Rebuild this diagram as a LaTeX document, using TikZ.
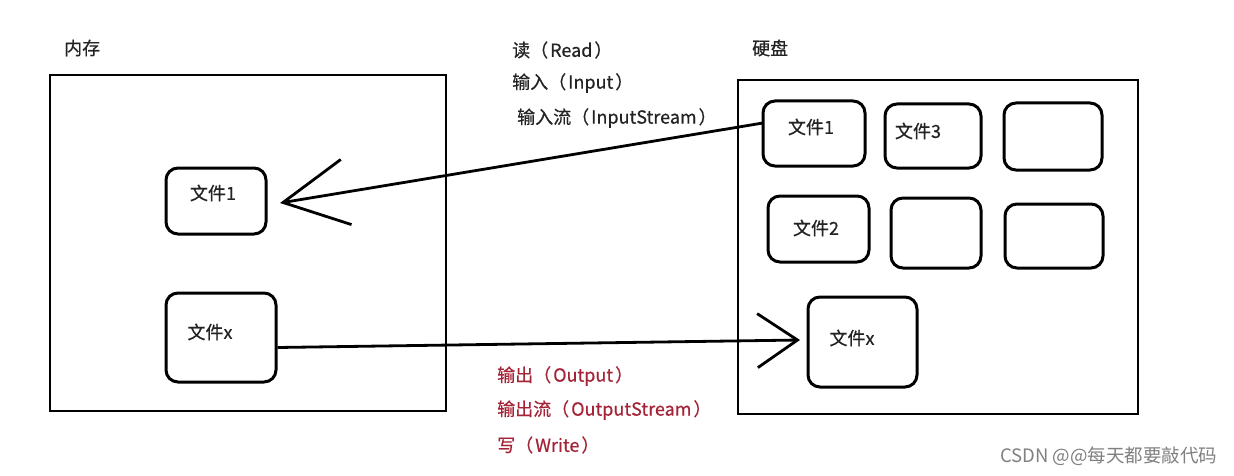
\documentclass[tikz,border=0pt]{standalone}
\usepackage{fontspec}
\setmainfont{Noto Sans CJK SC}
\newfontfamily\lblfont[FakeBold=0.5]{Noto Sans CJK SC}
\usetikzlibrary{arrows.meta}
\definecolor{redlbl}{RGB}{165,35,55}
\definecolor{darklbl}{RGB}{35,35,35}
\newcommand{\lp}{（\kern2pt}
\newcommand{\rp}{\kern2pt）}
\tikzset{
  big/.style={draw, line width=2.8pt},
  file/.style={draw, line width=3pt, rounded corners=12pt},
  ftxt/.style={font=\lblfont\fontsize{18}{20}\selectfont, text=darklbl},
  lbl/.style={anchor=west, font=\lblfont\fontsize{18}{20}\selectfont, text=darklbl, inner sep=0pt},
  rlbl/.style={lbl, text=redlbl},
  arr/.style={line width=2.8pt},
}
\begin{document}
\begin{tikzpicture}[x=1pt,y=-1pt]
\useasboundingbox (0,0) rectangle (1234,476);
\fill[white] (0,0) rectangle (1234,476);
% big boxes
\node[big, minimum width=396pt, minimum height=336pt, inner sep=0pt] (mem) at (248,243) {};
\node[big, minimum width=400pt, minimum height=334pt, inner sep=0pt] (disk) at (938,247) {};
\node[lbl] (memlbl) at (64,48) {内存};
\node[lbl] (disklbl) at (752,48) {硬盘};
% memory files
\node[file, minimum width=100pt, minimum height=66pt] (lf1) at (216,201) {};
\node[ftxt] (lf1t) at (213,193) {文件1};
\node[file, minimum width=110pt, minimum height=89pt] (lfx) at (221,337.5) {};
\node[ftxt] (lfxt) at (210,332) {文件x};
% disk files
\node[file, minimum width=102pt, minimum height=65pt] (rf1) at (814,133.5) {};
\node[ftxt] (rf1t) at (811,127) {文件1};
\node[file, minimum width=96pt, minimum height=64pt] (rf3) at (933,136) {};
\node[ftxt] (rf3t) at (918,131) {文件3};
\node[file, minimum width=98pt, minimum height=67pt] (re1) at (1053,136.5) {};
\node[file, minimum width=101pt, minimum height=66pt] (rf2) at (818.5,229) {};
\node[ftxt] (rf2t) at (816,228) {文件2};
\node[file, minimum width=90pt, minimum height=70pt] (re2) at (936,233) {};
\node[file, minimum width=98pt, minimum height=64pt] (re3) at (1054,236) {};
\node[file, minimum width=109pt, minimum height=90pt] (rfx) at (862.5,342) {};
\node[ftxt] (rfxt) at (852,338) {文件x};
% arrows
\coordinate (tip1) at (280,203);
\coordinate (tip2) at (800,340);
\draw[arr, -{Straight Barb[length=64pt,width=66pt]}] (763,123) -- (tip1);
\draw[arr, -{Straight Barb[length=40pt,width=54pt]}] (lfx.east) ++(0,10) -- (tip2);
% labels
\node[lbl] (l1) at (512,50) {读\lp Read\rp};
\node[lbl] (l2) at (512,83) {输入\lp Input\rp};
\node[lbl] (l3) at (517,118) {输入流\lp InputStream\rp};
\node[rlbl] (l4) at (497,376) {输出\lp Output\rp};
\node[rlbl] (l5) at (497,410) {输出流\lp OutputStream\rp};
\node[rlbl] (l6) at (497,445) {写\lp Write\rp};
\node[anchor=west, inner sep=0pt, font=\fontsize{18.5}{20}\selectfont, text=black!50] (wm) at (1000,456) {CSDN @@每天都要敲代码};
\end{tikzpicture}
\end{document}
